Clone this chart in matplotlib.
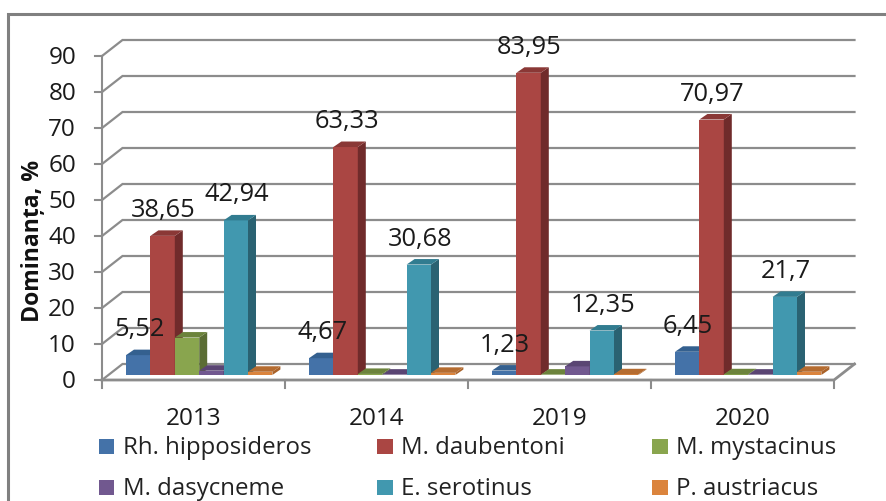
import matplotlib
matplotlib.use("Agg")
import matplotlib.pyplot as plt
from matplotlib.patches import Rectangle
from matplotlib.lines import Line2D

plt.rcParams['font.family'] = ['Open Sans', 'DejaVu Sans']

years = ["2013", "2014", "2019", "2020"]
species = ["Rh. hipposideros", "M. daubentoni", "M. mystacinus",
           "M. dasycneme", "E. serotinus", "P. austriacus"]
rh_hipposideros = [5.52, 4.67, 1.23, 6.45]
m_daubentoni = [38.65, 63.33, 83.95, 70.97]
m_mystacinus = [10.4, 0.3, 0.1, 0.2]
m_dasycneme = [1.2, 0.1, 2.4, 0.1]
e_serotinus = [42.94, 30.68, 12.35, 21.7]
p_austriacus = [0.9, 0.6, 0.2, 0.9]
series = [rh_hipposideros, m_daubentoni, m_mystacinus,
          m_dasycneme, e_serotinus, p_austriacus]
labelled = [0, 1, 4]
yticks = list(range(0, 100, 10))

front = ["#4472A8", "#AA4643", "#89A54E", "#71588F", "#4198AF", "#DB843D"]
side = ["#2F5480", "#702B2B", "#5B6D34", "#4E3C66", "#2A6272", "#A9622A"]
top = ["#34608F", "#8A3836", "#6C833C", "#5A4573", "#317C90", "#B56C30"]
grid_col = "#8C8C8C"

W, H = 886, 501
x0, x1, y0, y90 = 102, 834, 380, 56
fig = plt.figure(figsize=(W / 100, H / 100), dpi=100)
ax = fig.add_axes([x0 / W, 1 - y0 / H, (x1 - x0) / W, (y0 - y90) / H])
ax.set_xlim(0, 4)
ax.set_ylim(0, 90)
ax.axis("off")

# pixel -> data sizes
px_x = 4 / (x1 - x0)
px_y = 90 / (y0 - y90)

# walls
dx, dy = 20.5 * px_x, 16 * px_y
for v in yticks:
    ax.plot([0, dx, 4 + dx], [v, v + dy, v + dy], color=grid_col, lw=1.6,
            clip_on=False, zorder=1, solid_joinstyle="miter")
ax.plot([0, 0], [0, 90], color=grid_col, lw=1.5, clip_on=False, zorder=2)
ax.plot([0, 4, 4 + dx], [0, 0, dy], color=grid_col, lw=2, clip_on=False, zorder=2)
for v in yticks:
    ax.plot([-7 * px_x, 0], [v, v], color=grid_col, lw=1.5, clip_on=False, zorder=2)
for i in range(5):
    ax.plot([i, i], [0, -8 * px_y], color=grid_col, lw=1.5, clip_on=False, zorder=2)


def draw_bar(x, h, w, base, c_front, c_side, c_top):
    ddx, ddy = 8 * px_x, 5.5 * px_y
    ax.bar(x, h, w, bottom=base, align="edge", color=c_front, lw=0,
           clip_on=False, zorder=3)
    t = base + h
    ax.fill([x + w, x + w + ddx, x + w + ddx, x + w],
            [base, base + ddy, t + ddy, t], color=c_side, lw=0, clip_on=False, zorder=3)
    ax.fill([x, x + ddx, x + w + ddx, x + w],
            [t, t + ddy, t + ddy, t], color=c_top, lw=0, clip_on=False, zorder=3)


bar_w = 24.4 * px_x
start = 24 * px_x
base = 5 * px_y
for c in range(len(years)):
    for s, vals in enumerate(series):
        draw_bar(c + start + s * bar_w, vals[c], bar_w, base, front[s], side[s], top[s])

# value labels
for s in labelled:
    for c, v in enumerate(series[s]):
        ax.text(c + start + (s + 0.5) * bar_w + 1 * px_x, v + base + 25.5 * px_y,
                f"{v:g}".replace(".", ","), ha="center", va="center",
                fontsize=18.3, color="#1a1a1a", clip_on=False, zorder=5)

# tick labels
for v in yticks:
    ax.text(-26 * px_x, v - 2 * px_y, str(v), ha="right", va="center", fontsize=17.5,
            color="#1a1a1a", clip_on=False)
for i, y in enumerate(years):
    ax.text(i + 0.5, -39 * px_y, y, ha="center", va="center", fontsize=17.5,
            color="#1a1a1a", clip_on=False)

fig.text(33 / W, 1 - 241 / H, "Dominanța, %", rotation=90, ha="center", va="center",
         fontsize=16.6, fontweight="bold", color="#111111")

# legend
leg_x = [99, 377, 652]
leg_y = [446, 487]
for i, name in enumerate(species):
    lx = leg_x[i % 3]
    ly = leg_y[i // 3]
    fig.add_artist(Rectangle((lx / W, 1 - (ly + 8) / H), 15.5 / W, 15.5 / H,
                             transform=fig.transFigure, color=front[i], lw=0))
    fig.text((lx + 24) / W, 1 - (ly + 2) / H, name, ha="left", va="center",
             fontsize=17.3, color="#222222")

# outer frame, top and left only
fig.add_artist(Line2D([8 / W, 8 / W, 1], [0, 1 - 14 / H, 1 - 14 / H],
                      transform=fig.transFigure, color="#808080", lw=2.2,
                      solid_joinstyle="miter"))

fig.savefig("out.png", dpi=100)
